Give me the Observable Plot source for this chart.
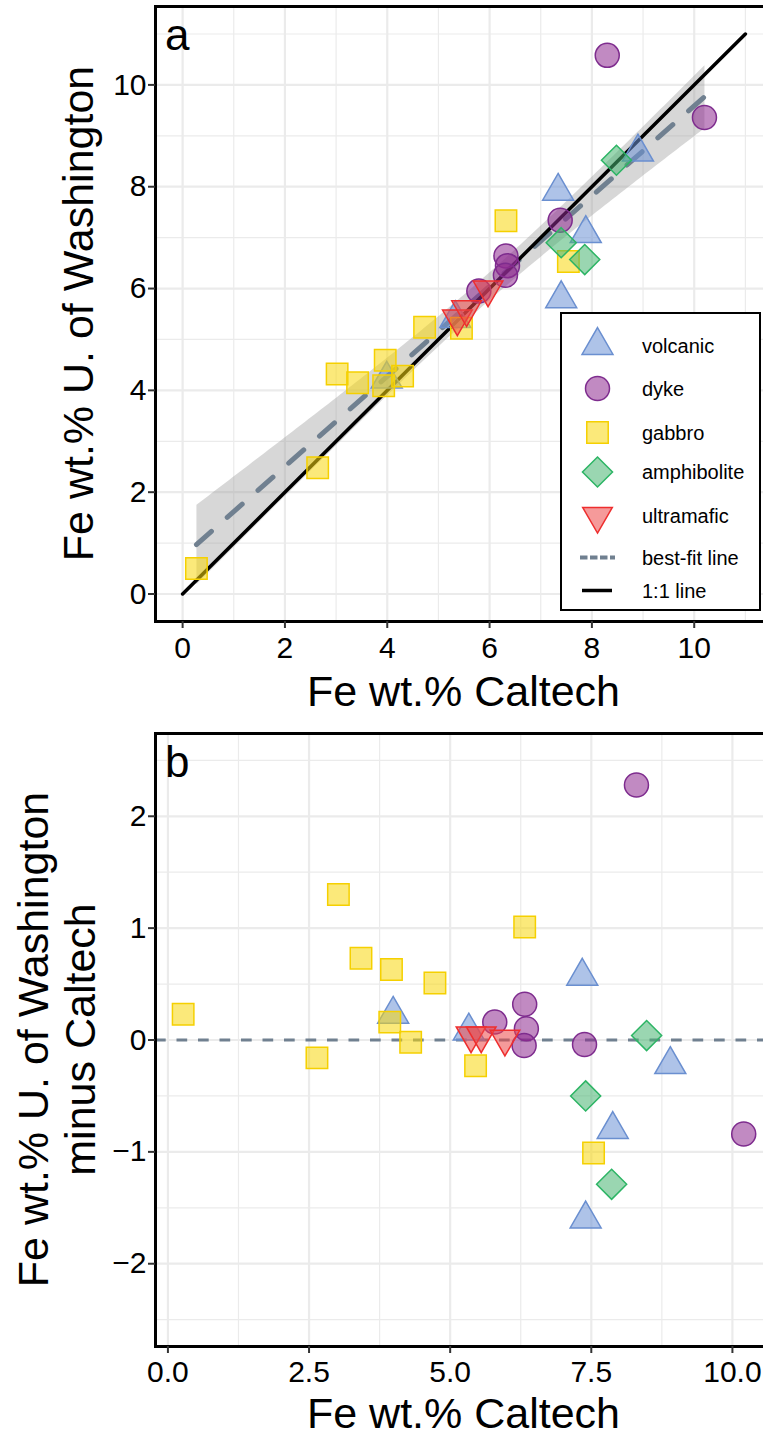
<!DOCTYPE html>
<html>
<head>
<meta charset="utf-8">
<script src="https://cdn.jsdelivr.net/npm/d3@7"></script>
<script src="https://cdn.jsdelivr.net/npm/@observablehq/plot@0.6"></script>
<style>
html, body { margin: 0; padding: 0; background: #fff; overflow: hidden; }
#wrap { width: 763px; height: 1437px; overflow: hidden; position: relative; background: #fff; }
#wrap svg { display: block; }
</style>
</head>
<body>
<div id="wrap"></div>
<script>
// ---------------- data ----------------
const categories = ["volcanic", "dyke", "gabbro", "amphibolite", "ultramafic"];

const volcanicCaltech    = [3.99, 5.33, 7.34, 7.40, 7.88, 8.90];
const volcanicUW         = [4.22, 5.41, 7.91, 5.80, 7.08, 8.68];

const dykeCaltech        = [5.79, 6.32, 6.35, 6.31, 7.38, 8.30, 10.20];
const dykeUW             = [5.95, 6.64, 6.45, 6.26, 7.34, 10.58, 9.36];

const gabbroCaltech      = [0.27, 2.64, 3.02, 3.42, 3.96, 3.93, 4.30, 4.73, 5.45, 6.32, 7.54];
const gabbroUW           = [0.50, 2.48, 4.32, 4.15, 4.59, 4.09, 4.28, 5.24, 5.22, 7.33, 6.53];

const amphiboliteCaltech = [7.40, 7.86, 8.48];
const amphiboliteUW      = [6.90, 6.57, 8.52];

const ultramaficCaltech  = [5.37, 5.55, 5.97];
const ultramaficUW       = [5.41, 5.59, 5.98];

const oneToOne = [0, 11];

const ticksA_major = [0, 2, 4, 6, 8, 10];
const ticksA_minor = [1, 3, 5, 7, 9, 11];
const ticksBx_major = [0, 2.5, 5, 7.5, 10];
const ticksBx_minor = [1.25, 3.75, 6.25, 8.75];
const ticksBy_major = [-2, -1, 0, 1, 2];
const ticksBy_minor = [-2.5, -1.5, -0.5, 0.5, 1.5, 2.5];

const legendLabels = ["volcanic", "dyke", "gabbro", "amphibolite", "ultramafic", "best-fit line", "1:1 line"];

// ---------------- table built from the arrays ----------------
const source = {
  volcanic: [volcanicCaltech, volcanicUW],
  dyke: [dykeCaltech, dykeUW],
  gabbro: [gabbroCaltech, gabbroUW],
  amphibolite: [amphiboliteCaltech, amphiboliteUW],
  ultramafic: [ultramaficCaltech, ultramaficUW]
};
const rows = [];
for (const c of categories) {
  const [xs, ys] = source[c];
  xs.forEach((x, i) => rows.push({type: c, caltech: x, uw: ys[i], diff: ys[i] - x}));
}

// ---------------- styles ----------------
const FONT = '"Liberation Sans", Arial, Helvetica, sans-serif';
const TICK_FS = 30;
const TITLE_FS = 43;
const sqrt3 = Math.sqrt(3);
const triangleDown = {
  draw(ctx, size) {
    const y = -Math.sqrt(size / (sqrt3 * 3));
    ctx.moveTo(0, -y * 2);
    ctx.lineTo(-sqrt3 * y, y);
    ctx.lineTo(sqrt3 * y, y);
    ctx.closePath();
  }
};
const diamond45 = {
  draw(ctx, size) {
    const d = Math.sqrt(size / 2);
    ctx.moveTo(0, -d); ctx.lineTo(d, 0); ctx.lineTo(0, d); ctx.lineTo(-d, 0); ctx.closePath();
  }
};
const SYM = {volcanic: d3.symbolTriangle, dyke: d3.symbolCircle, gabbro: d3.symbolSquare, amphibolite: diamond45, ultramafic: triangleDown};
const RAD = {volcanic: 11.5, dyke: 12, gabbro: 12.1, amphibolite: 12, ultramafic: 11};
const FILL = {volcanic: "#6C92D5", dyke: "#8E2A90", gabbro: "#F8D70D", amphibolite: "#47B471", ultramafic: "#ED4747"};
const STROKE = {volcanic: "#6A8FD0", dyke: "#7E2C8E", gabbro: "#F5D000", amphibolite: "#2DB565", ultramafic: "#EE2E2E"};
const FILL_OP = 0.55;
const GRID = "#EBEBEB";
const FIT = "#708090";

function dotsFor(yField) {
  return categories.map(c => Plot.dot(rows.filter(r => r.type === c), {
    x: "caltech", y: yField, symbol: SYM[c], r: RAD[c],
    fill: FILL[c], fillOpacity: FILL_OP, stroke: STROKE[c], strokeWidth: 1.5
  }));
}

function addText(sel, {x, y, text, size = TITLE_FS, anchor = "start", transform = null, dy = null}) {
  const t = sel.append("text")
    .attr("font-size", size).attr("font-family", FONT).attr("fill", "black")
    .attr("text-anchor", anchor).text(text);
  if (transform) t.attr("transform", transform); else t.attr("x", x).attr("y", y);
  if (dy) t.attr("dy", dy);
  return t;
}

const W = 775;

// ---------------- panel a ----------------
const plotA = Plot.plot({
  width: W, height: 715,
  marginLeft: 155, marginRight: 3, marginTop: 6, marginBottom: 94,
  style: {fontFamily: FONT, background: "white", color: "black"},
  x: {domain: [-0.53, 11.53], label: null},
  y: {domain: [-0.54, 11.54], label: null},
  marks: [
    Plot.gridX(ticksA_minor, {stroke: GRID, strokeOpacity: 1, strokeWidth: 1.2}),
    Plot.gridY(ticksA_minor, {stroke: GRID, strokeOpacity: 1, strokeWidth: 1.2}),
    Plot.gridX(ticksA_major, {stroke: GRID, strokeOpacity: 1, strokeWidth: 2.2}),
    Plot.gridY(ticksA_major, {stroke: GRID, strokeOpacity: 1, strokeWidth: 2.2}),
    Plot.linearRegressionY(rows, {x: "caltech", y: "uw", stroke: FIT, strokeWidth: 5, strokeDasharray: "20,21",
      fill: "#9a9a9a", fillOpacity: 0.4}),
    Plot.line(oneToOne, {x: d => d, y: d => d, stroke: "black", strokeWidth: 3.5}),
    ...dotsFor("uw"),
    Plot.frame({stroke: "black", strokeWidth: 3}),
    Plot.axisX(ticksA_major, {tickSize: 7, tickPadding: 8, fontSize: TICK_FS, label: null, stroke: "#333", strokeWidth: 2, tickFormat: d => String(d)}),
    Plot.axisY(ticksA_major, {tickSize: 7, tickPadding: 2, fontSize: TICK_FS, label: null, stroke: "#333", strokeWidth: 2, tickFormat: d => String(d)})
  ]
});
plotA.style.maxWidth = "none";
{
  const s = d3.select(plotA);
  addText(s, {x: 165, y: 50, text: "a", size: 44});
  addText(s, {x: 463.5, y: 706, text: "Fe wt.% Caltech", anchor: "middle"});
  addText(s, {transform: "translate(93,313.5) rotate(-90)", text: "Fe wt.% U. of Washington", anchor: "middle"});
  // legend
  const g = s.append("g");
  g.append("rect").attr("x", 561).attr("y", 313).attr("width", 199).attr("height", 297)
    .attr("fill", "white").attr("stroke", "black").attr("stroke-width", 2);
  const ys = [345.5, 388.5, 432.5, 472, 516, 557.5, 590.5];
  const keyX = 597.5, textX = 642;
  categories.forEach((c, i) => {
    const size = Math.PI * RAD[c] * RAD[c];
    g.append("path").attr("transform", `translate(${keyX},${ys[i]})`)
      .attr("d", d3.symbol(SYM[c], size)())
      .attr("fill", FILL[c]).attr("fill-opacity", FILL_OP).attr("stroke", STROKE[c]).attr("stroke-width", 1.5);
  });
  g.append("line").attr("x1", 580).attr("x2", 615).attr("y1", ys[5]).attr("y2", ys[5])
    .attr("stroke", FIT).attr("stroke-width", 4).attr("stroke-dasharray", "7.5,2.5");
  g.append("line").attr("x1", 582).attr("x2", 612).attr("y1", ys[6]).attr("y2", ys[6])
    .attr("stroke", "black").attr("stroke-width", 3.5);
  legendLabels.forEach((t, i) => {
    addText(g, {x: textX, y: ys[i], text: t, size: 20, dy: "0.35em"});
  });
}

// ---------------- panel b ----------------
const minusFmt = d => d < 0 ? "\u2212" + Math.abs(d) : String(d);
const plotB = Plot.plot({
  width: W, height: 722,
  marginLeft: 155, marginRight: 3, marginTop: 18, marginBottom: 91,
  style: {fontFamily: FONT, background: "white", color: "black"},
  x: {domain: [-0.22, 10.71], label: null},
  y: {domain: [-2.74, 2.74], label: null},
  marks: [
    Plot.gridX(ticksBx_minor, {stroke: GRID, strokeOpacity: 1, strokeWidth: 1.2}),
    Plot.gridY(ticksBy_minor, {stroke: GRID, strokeOpacity: 1, strokeWidth: 1.2}),
    Plot.gridX(ticksBx_major, {stroke: GRID, strokeOpacity: 1, strokeWidth: 2.2}),
    Plot.gridY(ticksBy_major, {stroke: GRID, strokeOpacity: 1, strokeWidth: 2.2}),
    Plot.ruleY([0], {stroke: FIT, strokeWidth: 3, strokeDasharray: "10.7,10.8"}),
    ...dotsFor("diff"),
    Plot.frame({stroke: "black", strokeWidth: 3}),
    Plot.axisX(ticksBx_major, {tickSize: 7, tickPadding: 7, fontSize: TICK_FS, label: null, stroke: "#333", strokeWidth: 2, tickFormat: d3.format(".1f")}),
    Plot.axisY(ticksBy_major, {tickSize: 7, tickPadding: 2, fontSize: TICK_FS, label: null, stroke: "#333", strokeWidth: 2, tickFormat: minusFmt})
  ]
});
plotB.style.maxWidth = "none";
{
  const s = d3.select(plotB);
  addText(s, {x: 165, y: 62, text: "b", size: 44});
  addText(s, {x: 463.5, y: 712.5, text: "Fe wt.% Caltech", anchor: "middle"});
  addText(s, {transform: "translate(48,324.5) rotate(-90)", text: "Fe wt.% U. of Washington", anchor: "middle"});
  addText(s, {transform: "translate(95,324.5) rotate(-90)", text: "minus Caltech", anchor: "middle"});
}

const wrap = document.getElementById("wrap");
wrap.appendChild(plotA);
wrap.appendChild(plotB);
</script>
</body>
</html>
